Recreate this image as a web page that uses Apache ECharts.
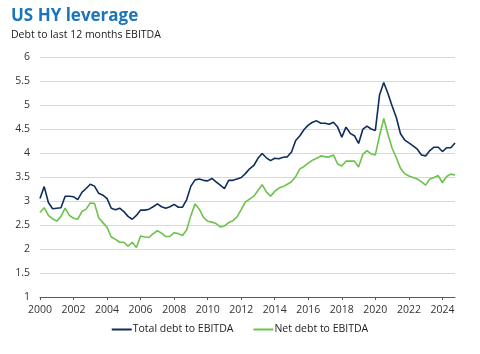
<!DOCTYPE html>
<html>
<head>
<meta charset="utf-8">
<script src="https://cdn.jsdelivr.net/npm/echarts@6/dist/echarts.min.js"></script>
<style>
  html, body { margin: 0; padding: 0; background: #fff; }
  #chart { width: 480px; height: 354px; }
</style>
</head>
<body>
<div id="chart"></div>
<script>
// quarterly, 2000 Q1 .. 2024 Q4
var years = [2000, 2001, 2002, 2003, 2004, 2005, 2006, 2007, 2008, 2009, 2010, 2011, 2012,
  2013, 2014, 2015, 2016, 2017, 2018, 2019, 2020, 2021, 2022, 2023, 2024]
var quarters = ['Q1', 'Q2', 'Q3', 'Q4']

var totalDebt = [
  3.05, 3.30, 2.97, 2.84, 2.85, 2.86, 3.10, 3.10, 3.09, 3.03,
  3.18, 3.26, 3.35, 3.31, 3.16, 3.12, 3.05, 2.85, 2.82, 2.85,
  2.78, 2.68, 2.62, 2.70, 2.81, 2.81, 2.83, 2.88, 2.94, 2.88,
  2.85, 2.88, 2.93, 2.87, 2.87, 3.03, 3.31, 3.44, 3.46, 3.43,
  3.42, 3.47, 3.40, 3.33, 3.26, 3.43, 3.43, 3.46, 3.49, 3.57,
  3.67, 3.74, 3.89, 3.99, 3.90, 3.84, 3.89, 3.88, 3.91, 3.92,
  4.02, 4.26, 4.36, 4.49, 4.58, 4.64, 4.67, 4.62, 4.62, 4.60,
  4.64, 4.54, 4.33, 4.54, 4.41, 4.36, 4.20, 4.49, 4.56, 4.50,
  4.47, 5.21, 5.47, 5.24, 4.98, 4.74, 4.40, 4.27, 4.21, 4.15,
  4.08, 3.96, 3.94, 4.05, 4.12, 4.12, 4.03, 4.11, 4.11, 4.21
]
var netDebt = [
  2.76, 2.86, 2.70, 2.63, 2.58, 2.68, 2.85, 2.70, 2.64, 2.62,
  2.78, 2.83, 2.96, 2.95, 2.65, 2.55, 2.45, 2.25, 2.20, 2.14,
  2.14, 2.06, 2.14, 2.03, 2.27, 2.25, 2.24, 2.32, 2.38, 2.33,
  2.26, 2.26, 2.34, 2.32, 2.28, 2.40, 2.70, 2.94, 2.83, 2.66,
  2.58, 2.56, 2.53, 2.46, 2.48, 2.55, 2.59, 2.67, 2.82, 2.98,
  3.04, 3.10, 3.22, 3.34, 3.19, 3.10, 3.20, 3.27, 3.30, 3.35,
  3.40, 3.51, 3.67, 3.72, 3.79, 3.85, 3.89, 3.94, 3.92, 3.92,
  3.96, 3.77, 3.73, 3.83, 3.83, 3.83, 3.71, 3.97, 4.05, 3.98,
  3.96, 4.36, 4.72, 4.39, 4.10, 3.90, 3.68, 3.57, 3.52, 3.49,
  3.46, 3.40, 3.33, 3.46, 3.49, 3.53, 3.38, 3.51, 3.56, 3.54
]

var categories = []
years.forEach(function (y) {
  quarters.forEach(function (q) { categories.push(y + ' ' + q) })
})

var chart = echarts.init(document.getElementById('chart'))

var option = {
  backgroundColor: '#fff',
  animation: false,
  textStyle: { fontFamily: 'Open Sans' },
  title: [
    {
      text: 'US HY leverage',
      left: 11,
      top: 8,
      padding: 0,
      textStyle: { color: '#1a75bb', fontSize: 17, fontWeight: 'bold', fontFamily: 'Open Sans' }
    },
    {
      text: 'Debt to last 12 months EBITDA',
      left: 11,
      top: 30,
      padding: 0,
      textStyle: { color: '#222', fontSize: 10.5, fontWeight: 'normal', fontFamily: 'Open Sans' }
    }
  ],
  legend: {
    bottom: 14,
    left: 'center',
    icon: 'rect',
    itemWidth: 20,
    itemHeight: 2,
    itemGap: 20,
    textStyle: { color: '#222', fontSize: 10.5, padding: [0, 0, 0, -4] },
    data: ['Total debt to EBITDA', 'Net debt to EBITDA']
  },
  grid: { left: 40, right: 25, top: 57, bottom: 57 },
  xAxis: {
    type: 'category',
    boundaryGap: false,
    data: categories,
    axisLine: { lineStyle: { color: '#595959', width: 1 } },
    axisTick: { show: true, interval: 7, length: 3, lineStyle: { color: '#595959' } },
    axisLabel: {
      interval: 7,
      color: '#333',
      fontSize: 10.5,
      margin: 8,
      formatter: function (v) { return v.slice(0, 4) }
    },
    splitLine: { show: false }
  },
  yAxis: {
    type: 'value',
    min: 1,
    max: 6,
    interval: 0.5,
    axisLine: { show: false },
    axisTick: { show: false },
    axisLabel: { color: '#333', fontSize: 10.5, margin: 10 },
    splitLine: { lineStyle: { color: '#d9d9d9', width: 1 } }
  },
  series: [
    {
      name: 'Total debt to EBITDA',
      type: 'line',
      data: totalDebt,
      showSymbol: false,
      symbol: 'none',
      lineStyle: { color: '#0f2d5c', width: 1.6 },
      itemStyle: { color: '#0f2d5c' }
    },
    {
      name: 'Net debt to EBITDA',
      type: 'line',
      data: netDebt,
      showSymbol: false,
      symbol: 'none',
      lineStyle: { color: '#6cc24a', width: 1.6 },
      itemStyle: { color: '#6cc24a' }
    }
  ]
}

chart.setOption(option)
</script>
</body>
</html>
